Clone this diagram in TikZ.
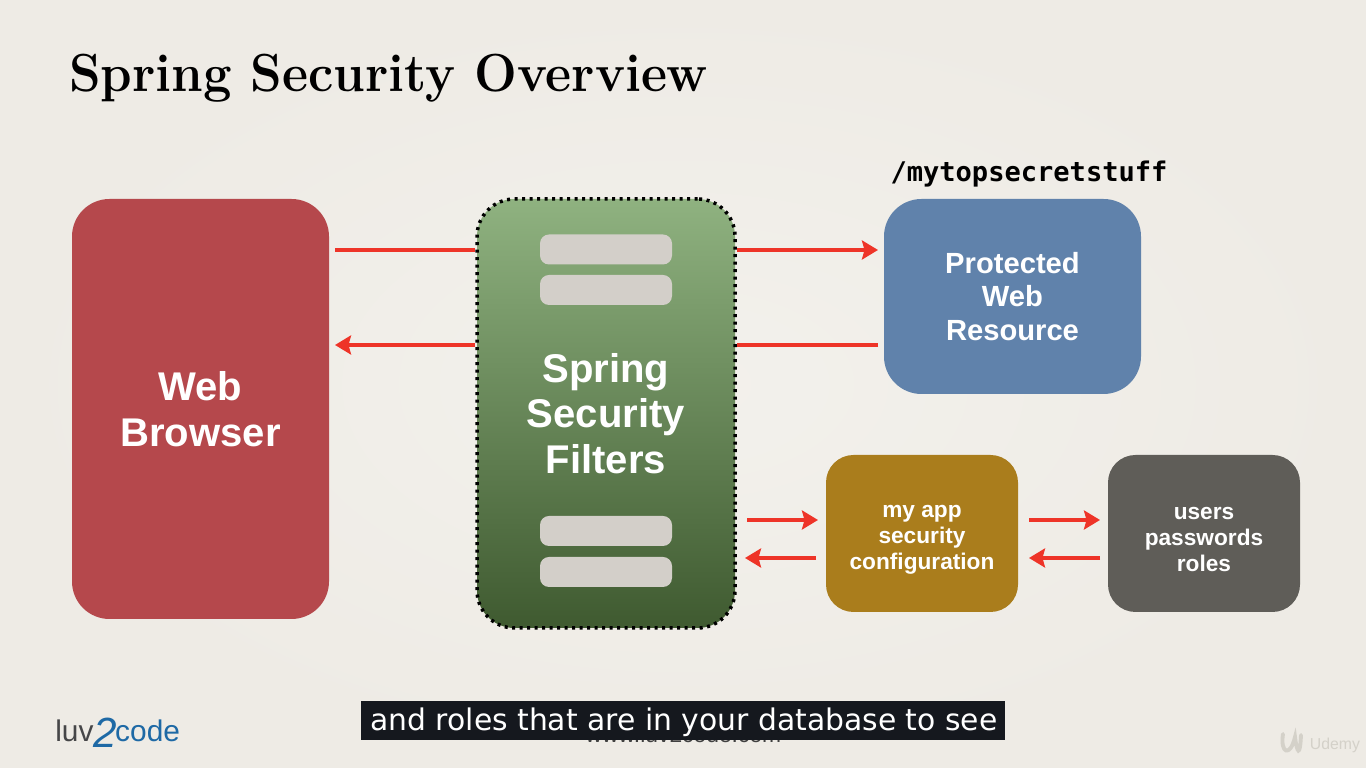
\documentclass[tikz,border=0pt]{standalone}
\usepackage{fontspec}
\setsansfont{Liberation Sans}
\newfontfamily\captionfont{DejaVu Sans}
\newfontfamily\pathfont{DejaVu Sans Mono}
\usetikzlibrary{arrows.meta, positioning, calc}
\definecolor{paper}{RGB}{243, 241, 236}
\definecolor{paperedge}{RGB}{238, 235, 229}
\definecolor{browserred}{RGB}{181, 72, 76}
\definecolor{filtertop}{RGB}{143, 178, 128}
\definecolor{filterbottom}{RGB}{63, 90, 48}
\definecolor{resourceblue}{RGB}{96, 130, 171}
\definecolor{configgold}{RGB}{170, 125, 28}
\definecolor{usersgray}{RGB}{95, 93, 88}
\definecolor{slotgray}{RGB}{211, 207, 201}
\definecolor{arrowred}{RGB}{238, 52, 40}
\definecolor{captionblack}{RGB}{21, 24, 30}
\definecolor{logogray}{RGB}{70, 70, 72}
\definecolor{logoblue}{RGB}{30, 105, 165}
\definecolor{watermark}{RGB}{212, 209, 201}
\newcommand{\lowerline}{\rule{0pt}{14pt}}
\begin{document}
\begin{tikzpicture}[
    box/.style={rectangle, rounded corners=0.75cm, text=white, align=center, font=\sffamily\bfseries},
    bigtext/.style={font=\sffamily\bfseries\fontsize{22.8}{26}\selectfont},
    midtext/.style={font=\sffamily\bfseries\fontsize{16.6}{19.3}\selectfont},
    smalltext/.style={font=\sffamily\bfseries\fontsize{12.9}{14.7}\selectfont},
    slot/.style={rectangle, rounded corners=0.18cm, minimum width=2.64cm, minimum height=0.6cm, fill=slotgray},
    arrow/.style={line width=1.8pt,-{Stealth[length=0.32cm,width=0.38cm,inset=0.05cm]}, draw=arrowred},
    plainline/.style={line width=1.8pt, draw=arrowred}
]

% Paper
\useasboundingbox (0,0) rectangle (27.32,15.36);
\shade [inner color=paper, outer color=paperedge] (0,0) rectangle (27.32,15.36);

% Title
\node (title) [anchor=base west, inner sep=0pt, xscale=0.945, transform shape, font=\rmfamily\bfseries\fontsize{30.5}{36}\selectfont] at (1.38,13.52) {Spring Security Overview};

% Main boxes
\node (web_browser) [box, bigtext, fill=browserred, minimum width=5.14cm, minimum height=8.4cm] at (4.01,7.18) {Web\\Browser};
\node (protected_resource) [box, midtext, fill=resourceblue, minimum width=5.14cm, minimum height=3.9cm] at (20.25,9.43) {Protected\\Web\\Resource};
\node (app_config) [box, smalltext, fill=configgold, rounded corners=0.55cm, minimum width=3.84cm, minimum height=3.14cm] at (18.44,4.69) {\lowerline my app\\security\\configuration};
\node (users_roles) [box, smalltext, fill=usersgray, rounded corners=0.55cm, minimum width=3.84cm, minimum height=3.14cm] at (24.08,4.69) {\lowerline users\\passwords\\roles};
\node (spring_filters) [box, bigtext, top color=filtertop, bottom color=filterbottom, draw=black, line width=0.07cm, dash pattern=on 0.06cm off 0.09cm, minimum width=5.16cm, minimum height=8.58cm] at (12.12,7.09) {Spring\\Security\\Filters};

% Filter slots
\node (slot_a) [slot] at (12.12,10.37) {};
\node (slot_b) [slot] at (12.12,9.56) {};
\node (slot_c) [slot] at (12.12,4.74) {};
\node (slot_d) [slot] at (12.12,3.92) {};

\node (secret_path) [anchor=base, inner sep=0pt, font=\pathfont\bfseries\fontsize{15.4}{18}\selectfont] at (20.58,11.72) {/mytopsecretstuff};

% Arrow ends
\coordinate (browser_out) at (6.70,10.36);
\coordinate (browser_in) at (6.70,8.46);
\coordinate (resource_in) at (17.56,10.36);
\coordinate (resource_out) at (17.56,8.46);
\coordinate (filter_out) at (14.94,4.96);
\coordinate (config_in) at (16.36,4.96);
\coordinate (config_out) at (16.32,4.20);
\coordinate (filter_in) at (14.90,4.20);
\coordinate (config_right) at (20.58,4.96);
\coordinate (users_in) at (22.00,4.96);
\coordinate (users_out) at (22.00,4.20);
\coordinate (config_back) at (20.58,4.20);

% Arrows
\draw [plainline] (browser_out) -- (browser_out -| spring_filters.west);
\draw [plainline] (resource_out) -- (resource_out -| spring_filters.east);
\draw [arrow] (browser_in -| spring_filters.west) -- (browser_in);
\draw [arrow] (resource_in -| spring_filters.east) -- (resource_in);
\foreach \start/\finish in {filter_out/config_in, config_out/filter_in, config_right/users_in, users_out/config_back} {
    \draw [arrow] (\start) -- (\finish);
}

% Footer
\node (footer_url) [anchor=base, inner sep=0pt, text=black!75, font=\sffamily\fontsize{13}{15}\selectfont] at (13.67,0.50) {www.luv2code.com};
\node (subtitle) [fill=captionblack, text=white, minimum width=12.88cm, inner sep=0pt, text height=0.60cm, text depth=0.18cm, font=\captionfont\fontsize{16.96}{20}\selectfont] at (13.66,0.95) {\hspace{1pt}and roles that are in your database to see};
\node (logo) [anchor=base west, inner sep=0pt, font=\sffamily\fontsize{17}{18}\selectfont] at (1.10,0.52) {\textcolor{logogray}{luv}\textcolor{logoblue}{\raisebox{-3pt}{\fontsize{24}{24}\selectfont\itshape 2}\kern-1pt code}};
\draw [watermark, line width=2.2pt, line cap=round] (25.66,0.68) .. controls (25.60,0.30) and (25.80,0.20) .. (25.90,0.62) .. controls (25.94,0.30) and (26.00,0.20) .. (26.02,0.66);
\node (udemy) [inner sep=0pt, text=watermark, font=\sffamily\fontsize{9}{11}\selectfont] at (26.70,0.46) {Udemy};

\end{tikzpicture}
\end{document}
